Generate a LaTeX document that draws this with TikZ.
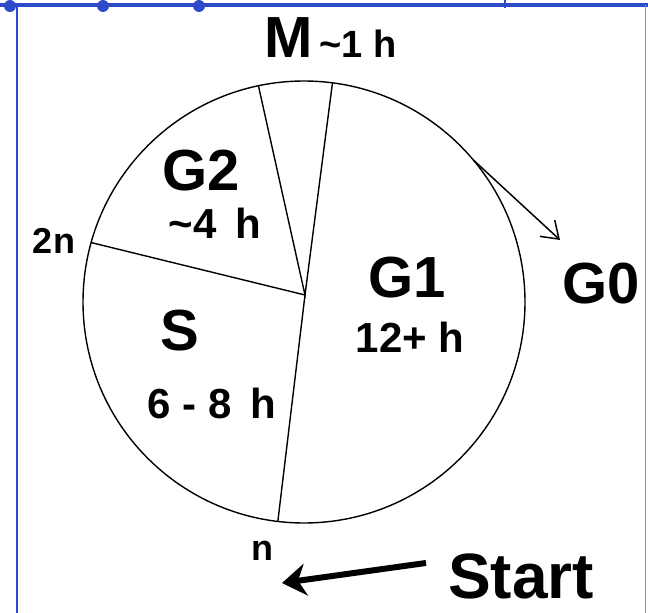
\documentclass[tikz,border=0pt]{standalone}
\usepackage{fontspec}
\setmainfont{Liberation Sans}
\usetikzlibrary{arrows.meta,calc,positioning}
\definecolor{scanblue}{RGB}{45,75,200}
\newcommand{\fs}[1]{\fontsize{#1}{#1}\selectfont}

\begin{document}
\begin{tikzpicture}[x=1pt, y=-1pt, >=Stealth,
  pie/.style={line width=1.4pt},
  phase/.style={font=\bfseries\fs{58}, inner sep=0pt, anchor=base},
  dur/.style={font=\bfseries\fs{42}, inner sep=0pt, anchor=base},
  ploid/.style={font=\bfseries\fs{36}, inner sep=0pt, anchor=base}]
  \useasboundingbox (0,0) rectangle (648,613);
  % scanned frame
  \draw[scanblue, line width=4pt] (0,5) -- (648,5);
  \draw[scanblue, line width=1.5pt] (17,5) -- (17,613);
  \draw[scanblue!60, line width=1pt] (645,5) -- (645,613);
  \draw[scanblue, line width=1.5pt] (505,0) -- (505,8);
  \foreach \x in {10,103,199} \fill[scanblue] (\x,6) circle[radius=6];
  % the cycle
  \coordinate (c) at (304,302);
  \coordinate (hub) at (305,295);
  \draw[pie] (c) circle[radius=221];
  \foreach \a/\nm in {96.8/bot, -164.4/left, -101.9/ml, -82.6/mr, -40/exit}
    \coordinate (\nm) at ($(c)+(\a:221)$);
  \draw[pie] (bot) -- (hub) -- (left);
  \draw[pie] (ml) -- (hub) -- (mr);
  % labels
  \node[phase, font=\bfseries\fs{58}] (m) at (289,57) {M};
  \node[dur, font=\bfseries\fs{38}, anchor=base west] (mt) at ([xshift=6pt]m.base east) {\textasciitilde1 h};
  \node[phase] (g2) at (201,190) {G2};
  \node[dur] (g2t) at (215,238) {\textasciitilde4\, h};
  \node[phase] (g1) at (407,297) {G1};
  \node[dur] (g1t) at (410,352) {12+ h};
  \node[phase] (s) at (180,350) {S};
  \node[dur] (st) at (212,418) {6 - 8\, h};
  \node[ploid] (dn) at (54,253) {2n};
  \node[ploid] (n) at (262,560) {n};
  \node[phase] (g0) at (601,303) {G0};
  \node[phase, font=\bfseries\fs{64}, anchor=base west] (start) at (448,598) {Start};
  % arrows
  \coordinate (g0tip) at (560,240);
  \coordinate (tip) at (282,583);
  \draw[-{Straight Barb[length=16pt, width=22pt]}, line width=1.5pt] (exit) -- (g0tip);
  \draw[-{Stealth[length=24pt, width=32pt]}, line width=6pt] ([xshift=-22pt, yshift=13pt]start.west) -- (tip);
\end{tikzpicture}
\end{document}
